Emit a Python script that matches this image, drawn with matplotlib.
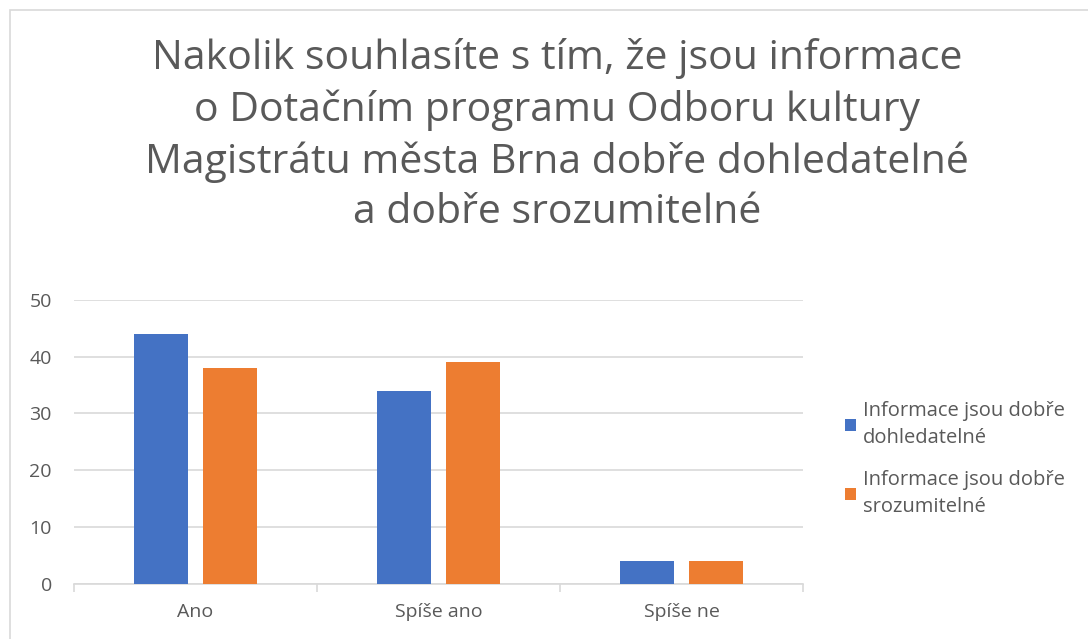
import matplotlib.pyplot as plt
import numpy as np
from matplotlib.patches import Rectangle

# Categories and series values
categories = ["Ano", "Spíše ano", "Spíše ne"]
dohledatelne = [44, 34, 4]
srozumitelne = [38, 39, 4]
series_labels = ["Informace jsou dobře\ndohledatelné", "Informace jsou dobře\nsrozumitelné"]
title = ("Nakolik souhlasíte s tím, že jsou informace\n"
         "o Dotačním programu Odboru kultury\n"
         "Magistrátu města Brna dobře dohledatelné\n"
         "a dobře srozumitelné")
y_ticks = [0, 10, 20, 30, 40, 50]

text_color = "#595959"
grid_color = "#D9D9D9"
plt.rcParams['font.family'] = ['Open Sans', 'DejaVu Sans']

fig = plt.figure(figsize=(10.88, 6.39), dpi=100)
ax = fig.add_axes([0.068, 0.086, 0.670, 0.445])

# light border around the chart area
fig.patches.append(Rectangle((10 / 1088, -0.1), 1.2, 1 - 10 / 639 + 0.1,
                             transform=fig.transFigure, fill=False,
                             edgecolor="#D9D9D9", linewidth=1.2))

x = np.arange(len(categories))
width = 0.222
offset = 0.142
ax.bar(x - offset, dohledatelne, width, color="#4472C4", label=series_labels[0], zorder=3)
ax.bar(x + offset, srozumitelne, width, color="#ED7D31", label=series_labels[1], zorder=3)

ax.set_xlim(-0.5, 2.5)
ax.set_ylim(0, 50)
ax.set_yticks(y_ticks)
ax.yaxis.grid(True, color=grid_color, linewidth=1.2, zorder=0)
ax.set_xticks(x)
ax.set_xticklabels(categories)
ax.set_xticks([-0.5, 0.5, 1.5, 2.5], minor=True)

for s in ["top", "right", "left"]:
    ax.spines[s].set_visible(False)
ax.spines["bottom"].set_color(grid_color)
ax.spines["bottom"].set_linewidth(1.2)
ax.tick_params(axis="y", length=0, pad=16, labelsize=14, labelcolor=text_color)
ax.tick_params(axis="x", which="major", length=0, pad=14, labelsize=14, labelcolor=text_color)
ax.tick_params(axis="x", which="minor", length=6, color=grid_color, width=1.2)

fig.text(0.512, 0.94, title, ha="center", va="top", fontsize=29.5,
         color=text_color, linespacing=1.32)

leg = ax.legend(loc="center left", bbox_to_anchor=(1.033, 0.44), frameon=False,
                fontsize=14.5, labelcolor=text_color, handlelength=0.55, handleheight=0.55,
                handletextpad=0.35, labelspacing=1.05)
for t in leg.get_texts():
    t.set_linespacing(1.5)

fig.savefig("out.png", dpi=100)
